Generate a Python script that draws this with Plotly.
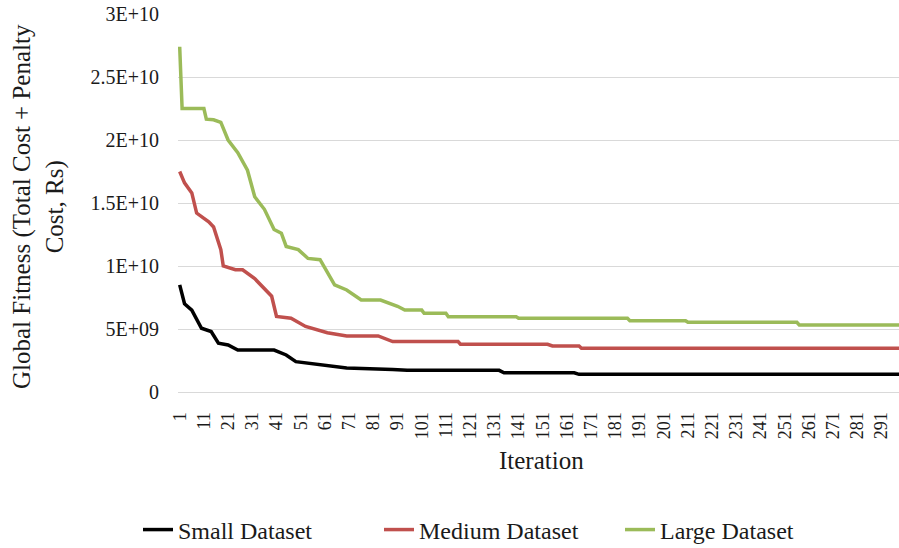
import plotly.graph_objects as go

# Iteration / value points (plateau ends and step points)
small_iter = [1, 3, 6, 10, 14, 17, 21, 25, 40, 45, 49, 54, 60, 70, 89, 95, 133, 135, 164, 166, 300]
small_vals = [8.5e9, 7.0e9, 6.5e9, 5.06e9, 4.8e9, 3.87e9, 3.73e9, 3.33e9, 3.33e9, 2.94e9, 2.41e9,
              2.28e9, 2.14e9, 1.9e9, 1.78e9, 1.72e9, 1.72e9, 1.53e9, 1.53e9, 1.40e9, 1.40e9]

medium_iter = [1, 3, 6, 8, 13, 15, 18, 19, 24, 27, 32, 36, 39, 41, 47, 53, 62, 70, 83, 89,
               116, 117, 153, 155, 166, 167, 300]
medium_vals = [1.75e10, 1.66e10, 1.58e10, 1.42e10, 1.35e10, 1.31e10, 1.13e10, 1.0e10, 9.7e9, 9.7e9,
               9.0e9, 8.2e9, 7.6e9, 6.0e9, 5.85e9, 5.2e9, 4.7e9, 4.45e9, 4.45e9, 4.0e9,
               4.0e9, 3.79e9, 3.79e9, 3.65e9, 3.65e9, 3.47e9, 3.47e9]

large_iter = [1, 2, 11, 12, 15, 18, 21, 25, 29, 32, 36, 40, 43, 45, 50, 54, 59, 65, 70, 76, 84,
              91, 94, 101, 102, 111, 112, 140, 141, 186, 187, 210, 211, 256, 257, 300]
large_vals = [2.74e10, 2.25e10, 2.25e10, 2.165e10, 2.16e10, 2.14e10, 2.0e10, 1.9e10, 1.76e10,
              1.55e10, 1.45e10, 1.29e10, 1.26e10, 1.155e10, 1.13e10, 1.06e10, 1.05e10, 8.5e9,
              8.1e9, 7.3e9, 7.3e9, 6.8e9, 6.5e9, 6.5e9, 6.25e9, 6.25e9, 5.98e9, 5.98e9, 5.85e9,
              5.85e9, 5.66e9, 5.66e9, 5.53e9, 5.53e9, 5.32e9, 5.32e9]

x_tick_vals = list(range(1, 300, 10))
x_tick_text = [str(v) for v in x_tick_vals]
y_tick_vals = [0, 5e9, 1e10, 1.5e10, 2e10, 2.5e10, 3e10]
y_tick_text = ["0", "5E+09", "1E+10", "1.5E+10", "2E+10", "2.5E+10", "3E+10"]

series = [
    ("Small Dataset", small_iter, small_vals, "#000000"),
    ("Medium Dataset", medium_iter, medium_vals, "#C0504D"),
    ("Large Dataset", large_iter, large_vals, "#9BBB59"),
]

FONT = "'Liberation Serif', 'Times New Roman', 'DejaVu Serif', serif"

fig = go.Figure()
for name, xs, ys, col in series:
    fig.add_trace(go.Scatter(x=xs, y=ys, mode="lines", name=name,
                             line=dict(color=col, width=3.5)))

fig.update_layout(
    width=899, height=548,
    margin=dict(l=178, r=0, t=14, b=156, autoexpand=False),
    paper_bgcolor="white", plot_bgcolor="white",
    font=dict(family=FONT, color="#1a1a1a"),
    showlegend=True,
    legend=dict(orientation="h", x=(138 - 178) / 721, xanchor="left", y=-0.365, yanchor="middle",
                entrywidth=196, entrywidthmode="pixels",
                font=dict(family=FONT, size=24, color="#1a1a1a"), traceorder="normal"),
    xaxis=dict(range=[0.3, 298.2], tickmode="array", tickvals=x_tick_vals, ticktext=x_tick_text,
               tickangle=-90, tickfont=dict(family=FONT, size=18, color="#1a1a1a"),
               showgrid=False, zeroline=False, showline=True, linecolor="#D9D9D9", linewidth=1,
               ticks="", ticklabelstandoff=12, automargin=False),
    yaxis=dict(range=[0, 3e10], tickmode="array", tickvals=y_tick_vals, ticktext=y_tick_text,
               tickfont=dict(family=FONT, size=20, color="#1a1a1a"),
               showgrid=True, gridcolor="#D9D9D9", gridwidth=1, zeroline=False,
               showline=False, ticks="", ticklabelstandoff=18, automargin=False),
    annotations=[
        dict(text="Iteration", xref="paper", yref="paper", x=0.5035, y=(392 - 460) / 378,
             xanchor="center", yanchor="middle", showarrow=False,
             font=dict(family=FONT, size=25, color="#1a1a1a")),
        dict(text="Global Fitness (Total Cost + Penalty<br>Cost, Rs)", xref="paper", yref="paper",
             x=(38 - 178) / 721, y=(392 - 207) / 378, xanchor="center", yanchor="middle",
             textangle=-90, showarrow=False,
             font=dict(family=FONT, size=25, color="#1a1a1a")),
    ],
)

fig.write_html("out.html", config={"displayModeBar": False},
               post_script="document.body.style.margin='0';document.body.style.overflow='hidden';")
